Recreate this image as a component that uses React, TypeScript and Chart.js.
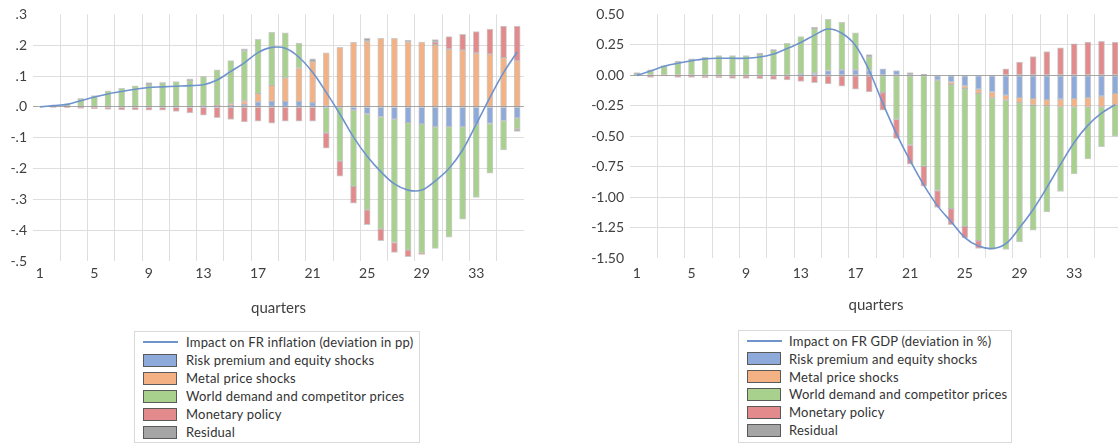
import { useEffect, useRef } from "react";
import { Chart, registerables } from "chart.js";

Chart.register(...registerables);

// Quarters after the shock
const quarters = [
  "1", "2", "3", "4", "5", "6", "7", "8", "9", "10", "11", "12",
  "13", "14", "15", "16", "17", "18", "19", "20", "21", "22", "23", "24",
  "25", "26", "27", "28", "29", "30", "31", "32", "33", "34", "35", "36",
];
const labelledQuarters = ["1", "5", "9", "13", "17", "21", "25", "29", "33"];

const seriesNames = [
  "Risk premium and equity shocks",
  "Metal price shocks",
  "World demand and competitor prices",
  "Monetary policy",
  "Residual",
];

// Inflation decomposition (pp)
const inflRisk = [
  0, 0, 0, 0, 0, 0, 0, 0, 0, 0, 0, 0,
  0.002, 0.003, 0.005, 0.008, 0.016, 0.018, 0.018, 0.018, 0.014, 0.002, 0, -0.011,
  -0.023, -0.032, -0.04, -0.051, -0.056, -0.065, -0.065, -0.065, -0.056, -0.054, -0.045, -0.037,
];
const inflMetal = [
  0, 0, 0, 0, 0, 0, 0, 0, 0, 0, 0, 0,
  0, 0.002, 0.005, 0.012, 0.027, 0.052, 0.076, 0.108, 0.133, 0.173, 0.193, 0.209,
  0.213, 0.222, 0.222, 0.211, 0.21, 0.201, 0.187, 0.184, 0.174, 0.171, 0.16, 0.149,
];
const inflWorld = [
  0.002, 0.006, 0.01, 0.025, 0.037, 0.052, 0.06, 0.068, 0.072, 0.077, 0.082, 0.085,
  0.096, 0.115, 0.14, 0.162, 0.176, 0.172, 0.146, 0.081, 0, -0.084, -0.176, -0.247,
  -0.311, -0.364, -0.4, -0.413, -0.419, -0.394, -0.358, -0.299, -0.238, -0.161, -0.095, -0.035,
];
const inflMonetary = [
  0, -0.001, -0.002, -0.005, -0.006, -0.008, -0.01, -0.01, -0.011, -0.011, -0.015, -0.02,
  -0.027, -0.035, -0.041, -0.049, -0.046, -0.053, -0.046, -0.046, -0.046, -0.05, -0.049, -0.054,
  -0.048, -0.038, -0.032, -0.022, -0.004, 0.009, 0.041, 0.051, 0.07, 0.081, 0.102, 0.113,
];
const inflResidual = [
  0, 0, 0, 0.002, 0, 0, 0, 0, 0.007, 0.002, 0, 0.006,
  0, 0, 0, 0.006, 0, 0, 0, 0, 0.009, 0, 0, 0,
  0.009, 0, 0, 0.006, 0, 0.008, 0, 0, 0, 0, 0, -0.008,
];
const inflTotal = [
  0, 0.004, 0.008, 0.02, 0.032, 0.042, 0.05, 0.057, 0.063, 0.065, 0.067, 0.069,
  0.072, 0.087, 0.115, 0.143, 0.176, 0.193, 0.19, 0.161, 0.112, 0.047, -0.023, -0.098,
  -0.16, -0.21, -0.25, -0.27, -0.27, -0.24, -0.2, -0.14, -0.056, 0.03, 0.111, 0.178,
];
const inflTickLabels = [".3", ".2", ".1", ".0", "-.1", "-.2", "-.3", "-.4", "-.5"];

// GDP decomposition (%)
const gdpRisk = [
  0, 0, 0, 0, 0, 0, 0, 0, 0, 0, 0, 0,
  0.01, 0.02, 0.04, 0.046, 0.046, 0.04, 0.054, 0.04, 0, 0, -0.04, -0.054,
  -0.087, -0.114, -0.136, -0.163, -0.182, -0.19, -0.199, -0.196, -0.19, -0.185, -0.171, -0.15,
];
const gdpMetal = [
  0, 0, 0, 0, 0, 0, 0, 0, 0, 0, 0, 0,
  0, 0, 0, 0, 0, 0, 0, 0, 0, 0, 0, -0.022,
  -0.022, -0.033, -0.049, -0.041, -0.041, -0.055, -0.051, -0.062, -0.068, -0.073, -0.087, -0.095,
];
const gdpWorld = [
  0.004, 0.04, 0.08, 0.11, 0.13, 0.15, 0.163, 0.163, 0.163, 0.172, 0.205, 0.262,
  0.308, 0.364, 0.42, 0.389, 0.302, 0.109, -0.141, -0.36, -0.571, -0.745, -0.904, -1.017,
  -1.129, -1.208, -1.243, -1.224, -1.143, -1.025, -0.87, -0.694, -0.55, -0.427, -0.327, -0.253,
];
const gdpMonetary = [
  0, -0.016, -0.004, -0.016, -0.016, -0.02, -0.02, -0.025, -0.025, -0.027, -0.033, -0.038,
  -0.05, -0.06, -0.07, -0.088, -0.114, -0.136, -0.145, -0.157, -0.158, -0.164, -0.139, -0.131,
  -0.095, -0.065, 0, 0.054, 0.109, 0.155, 0.196, 0.226, 0.258, 0.272, 0.28, 0.272,
];
const gdpResidual = [
  0.018, 0.006, 0, 0.007, 0.006, 0, 0, 0, 0, 0.01, 0.007, 0,
  0, 0.01, 0, 0, 0, 0.022, 0, 0, 0.022, 0.008, 0, 0,
  0, 0, 0, 0, 0, 0, 0, 0, 0, 0, 0, 0,
];
const gdpTotal = [
  0, 0.035, 0.075, 0.1, 0.12, 0.135, 0.14, 0.14, 0.14, 0.15, 0.175, 0.22,
  0.27, 0.33, 0.38, 0.345, 0.245, 0.04, -0.23, -0.48, -0.7, -0.9, -1.07, -1.2,
  -1.33, -1.4, -1.42, -1.38, -1.25, -1.1, -0.92, -0.73, -0.55, -0.41, -0.31, -0.24,
];
const gdpTickLabels = ["0.50", "0.25", "0.00", "-0.25", "-0.50", "-0.75", "-1.00", "-1.25", "-1.50"];

// Styling
const FONT = "Lato, 'Liberation Sans', sans-serif";
const TEXT = "#404040";
const GRID = "#dedede";
const ZERO = "#a8a8a8";
const LINE = "#6f93cc";
const NONE = "rgba(0,0,0,0)";
const seriesFill = ["#8eaadb", "#f4b183", "#a9d18e", "#e38a8c", "#a5a5a5"];
const BAR_EDGE = "rgba(110,110,110,0.35)";

type PanelProps = {
  left: number;
  width: number;
  height: number;
  yAxisWidth: number;
  padTop: number;
  padRight: number;
  xAxisHeight: number;
  xTickPad: number;
  titlePad: number;
  yMin: number;
  yMax: number;
  yStep: number;
  yLabels: string[];
  parts: number[][];
  total: number[];
  totalName: string;
};

function ChartPanel(p: PanelProps) {
  const ref = useRef<HTMLCanvasElement | null>(null);

  useEffect(() => {
    if (!ref.current) return;
    const chart = new Chart(ref.current, {
      type: "bar",
      data: {
        labels: quarters,
        datasets: [
          {
            type: "line",
            label: p.totalName,
            data: p.total,
            borderColor: LINE,
            backgroundColor: LINE,
            borderWidth: 1.6,
            pointRadius: 0,
            tension: 0.35,
            fill: false,
          } as any,
          ...p.parts.map((d, i) => ({
            type: "bar",
            label: seriesNames[i],
            data: d,
            backgroundColor: seriesFill[i],
            borderColor: BAR_EDGE,
            borderWidth: 1,
            borderSkipped: false,
            barThickness: 6,
          })),
        ],
      },
      options: {
        responsive: false,
        animation: false,
        devicePixelRatio: 1,
        layout: { padding: { top: p.padTop, right: p.padRight, left: 0, bottom: 0 } },
        plugins: { legend: { display: false }, tooltip: { enabled: false } },
        scales: {
          x: {
            stacked: true,
            offset: true,
            border: { display: false },
            grid: {
              offset: true,
              drawTicks: false,
              lineWidth: 1,
              // a vertical line every second quarter boundary
              color: (ctx: any) =>
                typeof ctx.index === "number" && ctx.index > 0 && ctx.index % 2 === 0
                  ? GRID
                  : NONE,
            },
            ticks: {
              autoSkip: false,
              maxRotation: 0,
              minRotation: 0,
              padding: p.xTickPad,
              color: TEXT,
              font: { family: FONT, size: 14 },
              callback: (_v: any, i: number) =>
                labelledQuarters.includes(quarters[i]) ? quarters[i] : "",
            },
            title: {
              display: true,
              text: "quarters",
              color: TEXT,
              font: { family: FONT, size: 15 },
              padding: { top: 0, bottom: p.titlePad },
            },
            afterFit: (s: any) => {
              s.height = p.xAxisHeight;
            },
          },
          y: {
            stacked: true,
            min: p.yMin,
            max: p.yMax,
            border: { display: false },
            grid: {
              drawTicks: false,
              lineWidth: 1,
              color: (ctx: any) => {
                if (!ctx.tick) return NONE;
                const v = ctx.tick.value;
                if (Math.abs(v) < 1e-9) return ZERO;
                if (Math.abs(v - p.yMax) < 1e-9 || Math.abs(v - p.yMin) < 1e-9) return NONE;
                return GRID;
              },
            },
            ticks: {
              stepSize: p.yStep,
              padding: 6,
              color: TEXT,
              font: { family: FONT, size: 14 },
              callback: (v: any) => {
                const i = Math.round((p.yMax - Number(v)) / p.yStep);
                return p.yLabels[i] ?? "";
              },
            },
            afterFit: (s: any) => {
              s.width = p.yAxisWidth;
            },
          },
        },
      } as any,
    });
    return () => chart.destroy();
  }, []);

  return (
    <canvas
      ref={ref}
      width={p.width}
      height={p.height}
      style={{ position: "absolute", left: p.left, top: 0, width: p.width, height: p.height }}
    />
  );
}

type LegendProps = {
  left: number;
  top: number;
  width: number;
  height: number;
  rowStart: number;
  rowGap: number;
  textLeft: number;
  totalName: string;
};

function LegendBox(l: LegendProps) {
  const rows = [l.totalName, ...seriesNames];
  return (
    <div
      style={{
        position: "absolute",
        left: l.left,
        top: l.top,
        width: l.width,
        height: l.height,
        border: "1px solid #d9d9d9",
        boxSizing: "border-box",
        fontFamily: FONT,
        fontSize: 13,
        color: "#333",
        letterSpacing: "0.2px",
      }}
    >
      {rows.map((name, k) => {
        const cy = l.rowStart + k * l.rowGap;
        return (
          <div key={name}>
            {k === 0 ? (
              <div
                style={{
                  position: "absolute",
                  left: 8,
                  top: cy - 1,
                  width: 35,
                  height: 1.6,
                  background: LINE,
                }}
              />
            ) : (
              <div
                style={{
                  position: "absolute",
                  left: 8,
                  top: cy - 6.5,
                  width: 34,
                  height: 13,
                  background: seriesFill[k - 1],
                  border: "1.5px solid #5a5a5a",
                  boxSizing: "border-box",
                }}
              />
            )}
            <div
              style={{
                position: "absolute",
                left: l.textLeft,
                top: cy - 9,
                height: 18,
                lineHeight: "18px",
                whiteSpace: "nowrap",
              }}
            >
              {name}
            </div>
          </div>
        );
      })}
    </div>
  );
}

export default function App() {
  return (
    <div
      style={{
        position: "fixed",
        left: 0,
        top: 0,
        width: 1118,
        height: 447,
        overflow: "hidden",
        background: "#ffffff",
      }}
    >
      <ChartPanel
        left={0}
        width={530}
        height={322}
        yAxisWidth={33}
        padTop={13.4}
        padRight={6}
        xAxisHeight={61}
        xTickPad={4}
        titlePad={5}
        yMin={-0.5}
        yMax={0.3}
        yStep={0.1}
        yLabels={inflTickLabels}
        parts={[inflRisk, inflMetal, inflWorld, inflMonetary, inflResidual]}
        total={inflTotal}
        totalName="Impact on FR inflation (deviation in pp)"
      />
      <ChartPanel
        left={560}
        width={570}
        height={322}
        yAxisWidth={70}
        padTop={12}
        padRight={8}
        xAxisHeight={63.7}
        xTickPad={6.5}
        titlePad={7.5}
        yMin={-1.5}
        yMax={0.5}
        yStep={0.25}
        yLabels={gdpTickLabels}
        parts={[gdpRisk, gdpMetal, gdpWorld, gdpMonetary, gdpResidual]}
        total={gdpTotal}
        totalName="Impact on FR GDP (deviation in %)"
      />
      <LegendBox
        left={134}
        top={331}
        width={286}
        height={112}
        rowStart={10}
        rowGap={18}
        textLeft={51}
        totalName="Impact on FR inflation (deviation in pp)"
      />
      <LegendBox
        left={738}
        top={330}
        width={274}
        height={113}
        rowStart={10}
        rowGap={17.8}
        textLeft={50}
        totalName="Impact on FR GDP (deviation in %)"
      />
    </div>
  );
}
